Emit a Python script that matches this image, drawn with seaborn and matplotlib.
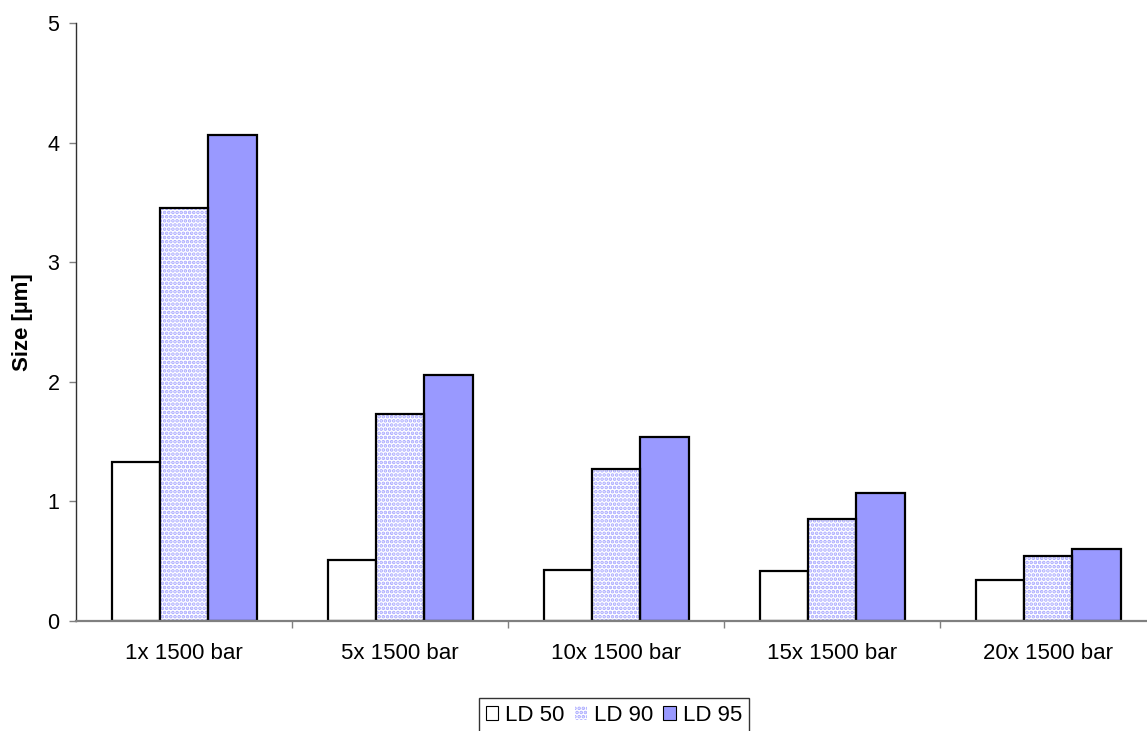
import matplotlib
matplotlib.use("Agg")
import matplotlib.pyplot as plt
import seaborn as sns
import pandas as pd
from matplotlib.patches import Patch

sns.set_style("white")
plt.rcParams['font.family'] = ['Liberation Sans', 'DejaVu Sans']
plt.rcParams['hatch.linewidth'] = 1.8
plt.rcParams['text.color'] = 'black'
plt.rcParams['axes.labelcolor'] = 'black'
plt.rcParams['xtick.color'] = 'black'
plt.rcParams['ytick.color'] = 'black'

categories = ["1x 1500 bar", "5x 1500 bar", "10x 1500 bar", "15x 1500 bar", "20x 1500 bar"]
series = ["LD 50", "LD 90", "LD 95"]
ld50 = [1.33, 0.51, 0.43, 0.42, 0.34]
ld90 = [3.45, 1.73, 1.27, 0.85, 0.54]
ld95 = [4.06, 2.06, 1.54, 1.07, 0.60]

df = pd.DataFrame({
    "Process": categories * 3,
    "Series": [s for s in series for _ in categories],
    "Size": ld50 + ld90 + ld95,
})

colors = {"LD 50": "#FFFFFF", "LD 90": "#FFFFFF", "LD 95": "#9999FF"}
dot_color = "#A8A8FF"

fig = plt.figure(figsize=(11.47, 7.31), dpi=100)
# the category axis runs slightly past the right edge of the canvas
ax = fig.add_axes([0.0663, 0.1505, 0.9416, 0.818])

sns.barplot(data=df, x="Process", y="Size", hue="Series", order=categories,
            hue_order=series, palette=colors, saturation=1, width=0.671, gap=0,
            edgecolor="black", linewidth=1.6, legend=False, ax=ax)

# dotted fill for LD 90, outlined in black on top
for cont, name in zip(ax.containers, series):
    for bar in cont:
        if name == "LD 90":
            bar.set_hatch("....")
            bar.set_edgecolor(dot_color)
            bar.set_linewidth(0)
            ax.add_patch(plt.Rectangle(bar.get_xy(), bar.get_width(), bar.get_height(),
                                       fill=False, edgecolor="black", linewidth=1.6,
                                       zorder=bar.get_zorder() + 0.1))

ax.set_xlim(-0.5, 4.5)
ax.set_ylim(0, 5)
ax.set_yticks([0, 1, 2, 3, 4, 5])
ax.set_xticks([0, 1, 2, 3, 4])
ax.set_xticks([0.5, 1.5, 2.5, 3.5], minor=True)
ax.tick_params(axis="x", which="major", length=0, pad=16, labelsize=16)
ax.tick_params(axis="x", which="minor", length=5, width=1, color="#808080", direction="out")
ax.tick_params(axis="y", length=5, width=1, color="#808080", direction="out", labelsize=15.5, pad=7)
ax.tick_params(left=True, bottom=True, which="both")

for side in ["top", "right"]:
    ax.spines[side].set_visible(False)
ax.spines["left"].set_color("#303030")
ax.spines["left"].set_linewidth(1.0)
ax.spines["bottom"].set_color("#808080")
ax.spines["bottom"].set_linewidth(1.6)

ax.set_xlabel("")
ax.set_ylabel("Size [µm]", fontsize=16, fontweight="bold")
ax.yaxis.set_label_coords(-0.04, 0.5)

handles = [
    Patch(facecolor="#FFFFFF", edgecolor="black", linewidth=0.8, label="LD 50"),
    Patch(facecolor="#FFFFFF", edgecolor=dot_color, hatch="....", linewidth=0, label="LD 90"),
    Patch(facecolor="#9999FF", edgecolor="black", linewidth=0.8, label="LD 95"),
]
leg = fig.legend(handles=handles, loc="center", bbox_to_anchor=(0.5353, 0.0215), ncol=3,
                 frameon=True, fancybox=False, edgecolor="black", fontsize=16,
                 handlelength=0.55, handleheight=0.55, handletextpad=0.32, columnspacing=0.45,
                 borderpad=0.3, borderaxespad=0)
leg.get_frame().set_linewidth(1.0)

fig.savefig("out.png", dpi=100)
